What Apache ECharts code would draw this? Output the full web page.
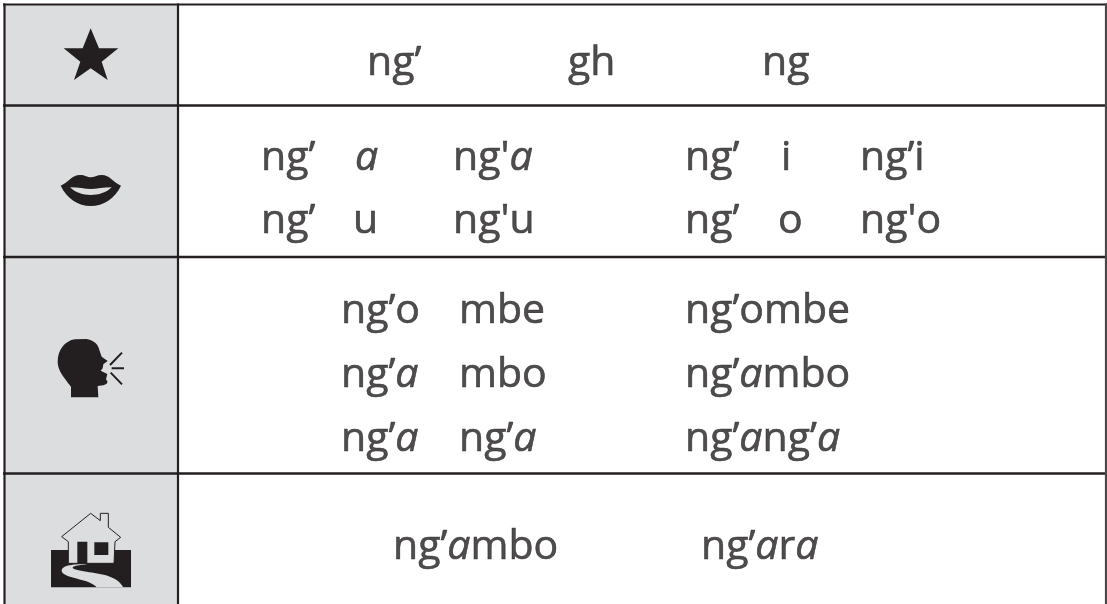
<!DOCTYPE html>
<html><head><meta charset="utf-8">
<style>html,body{margin:0;padding:0;background:#fff}#c{width:1107px;height:604px}</style>
<script src="https://cdn.jsdelivr.net/npm/echarts@6/dist/echarts.min.js"></script>
</head><body><div id="c"></div>
<script>
const INK = '#231f20', SHADE = '#dcddde';
const FONT = 'Open Sans', SIZE = 41;

// table text, row by row
const words = [
  ["ng’", "gh", "ng"],
  ["ng’", "a", "ng'a", "ng’", "i", "ng’i"],
  ["ng’", "u", "ng'u", "ng’", "o", "ng'o"],
  ["ng’o", "mbe", "ng’ombe"],
  ["ng’a", "mbo", "ng’ambo"],
  ["ng’a", "ng’a", "ng’ang’a"],
  ["ng’ambo", "ng’ara"]
];
// left edge of each word
const wordLeft = [
  [367, 568, 762],
  [261, 355, 453, 685, 781, 860],
  [261, 353, 453, 685, 778, 860],
  [341, 459, 685],
  [341, 459, 685],
  [341, 459, 685],
  [393, 701]
];
// middle of each text line
const lineMid = [63.5, 158.5, 221.5, 311.5, 375.5, 439.5, 547.5];

// table rules
const rowRules = [4.5, 105.5, 257, 473.5];
const colRules = [4.5, 178, 1106];
const tableBottom = 604;

// icons, drawn in a 3x local space
const icons = [
  {o: [0, 0], parts: [{f: INK, d: 'M272,85 L297,145 L355,145 L305,185 L323,240 L272,205 L222,240 L241,185 L191,145 L248,145 Z'}]},
  {o: [0, 0], parts: [
    {f: INK, d: 'M182,557 C205,548 215,525 240,525 C255,525 262,532 272,532 C282,532 292,525 305,525 C330,525 340,548 363,557 C345,595 310,618 272,618 C235,618 200,595 182,557 Z'},
    {f: SHADE, d: 'M210,562 C235,562 255,567 272,567 C290,567 310,562 335,562 C320,578 295,585 272,585 C250,585 225,578 210,562 Z'}
  ]},
  {o: [0, 300], parts: [
    {f: INK, d: 'M213,292 L295,292 L293,258 L310,256 C318,254 324,250 322,244 L318,238 L322,222 L302,212 L308,205 L310,193 L323,183 L305,170 L298,150 C295,135 285,122 260,117 L225,118 C195,122 173,150 173,185 C173,210 190,230 213,260 Z'},
    {s: INK, w: 6, d: 'M330,195 L366,158 M335,205 L372,205 M332,218 L366,253'}
  ]},
  {o: [0, 300], parts: [
    {f: INK, d: 'M153,750 L393,750 L393,862 L153,862 Z'},
    {f: SHADE, s: INK, w: 3, d: 'M185,710 L272,640 L301,662 L301,640 L325,640 L325,682 L362,712 L345,725 L342,790 L205,790 L205,725 Z'},
    {f: INK, d: 'M232,725 L262,725 L262,790 L232,790 Z M283,727 L325,727 L325,765 L283,765 Z'},
    {f: SHADE, d: 'M262,792 C225,792 185,795 185,812 C185,835 270,835 290,862 L370,862 C350,825 300,822 260,815 C235,810 218,808 218,803 C218,798 240,795 262,792 Z'}
  ]}
];

const wordData = [];
words.forEach((row, r) => row.forEach((w, i) => wordData.push([wordLeft[r][i], lineMid[r], w])));

const glyph = {fontFamily: FONT, fontSize: SIZE, color: INK, textBorderColor: INK, textBorderWidth: 0.6};

const chart = echarts.init(document.getElementById('c'), null, {renderer: 'canvas'});
chart.setOption({
  animation: false,
  backgroundColor: '#fff',
  grid: {left: 0, right: 0, top: 0, bottom: 0},
  xAxis: {type: 'value', min: 0, max: 1107, show: false},
  yAxis: {type: 'value', min: 0, max: 604, inverse: true, show: false},
  series: [
    {
      type: 'custom', coordinateSystem: 'cartesian2d', silent: true, clip: false,
      data: [[0]],
      renderItem(p, api) {
        const [x0, y0] = api.coord([colRules[0], rowRules[0]]);
        const [x1, y1] = api.coord([colRules[1], tableBottom]);
        const [x2] = api.coord([colRules[2], 0]);
        const kids = [{type: 'rect', shape: {x: x0, y: y0, width: x1 - x0, height: y1 - y0}, style: {fill: SHADE}}];
        rowRules.forEach(v => {
          const y = api.coord([0, v])[1];
          kids.push({type: 'line', shape: {x1: x0 - 1.5, y1: y, x2: x2 + 1, y2: y}, style: {stroke: INK, lineWidth: v === rowRules[0] ? 2 : 2.4}});
        });
        colRules.forEach((v, i) => {
          const x = api.coord([v, 0])[0];
          kids.push({type: 'line', shape: {x1: x, y1: y0 - 1, x2: x, y2: y1}, style: {stroke: i === 2 ? '#4a4748' : INK, lineWidth: 2.2}});
        });
        return {type: 'group', children: kids};
      }
    },
    {
      type: 'custom', coordinateSystem: 'cartesian2d', silent: true, clip: false,
      data: icons.map((_, i) => [i]),
      renderItem(p, api) {
        const ic = icons[api.value(0)];
        const [x, y] = api.coord(ic.o);
        return {type: 'group', x, y, scaleX: 1 / 3, scaleY: 1 / 3, children: ic.parts.map(q => ({
          type: 'path', shape: {pathData: q.d},
          style: {fill: q.f || 'none', stroke: q.s || 'none', lineWidth: q.w || 0}
        }))};
      }
    },
    {
      type: 'scatter', silent: true, clip: false, symbolSize: 0,
      data: wordData,
      label: {
        show: true, position: 'inside', align: 'left', verticalAlign: 'middle',
        color: INK, fontFamily: FONT, fontSize: SIZE,
        formatter: p => p.data[2].replace(/a/g, '{i|a}').replace(/(^|\})([^{]+)/g, (m, a, b) => a + '{n|' + b + '}'),
        rich: {
          n: glyph,
          i: Object.assign({}, glyph, {fontStyle: 'italic'})
        }
      }
    }
  ]
});
</script></body></html>
